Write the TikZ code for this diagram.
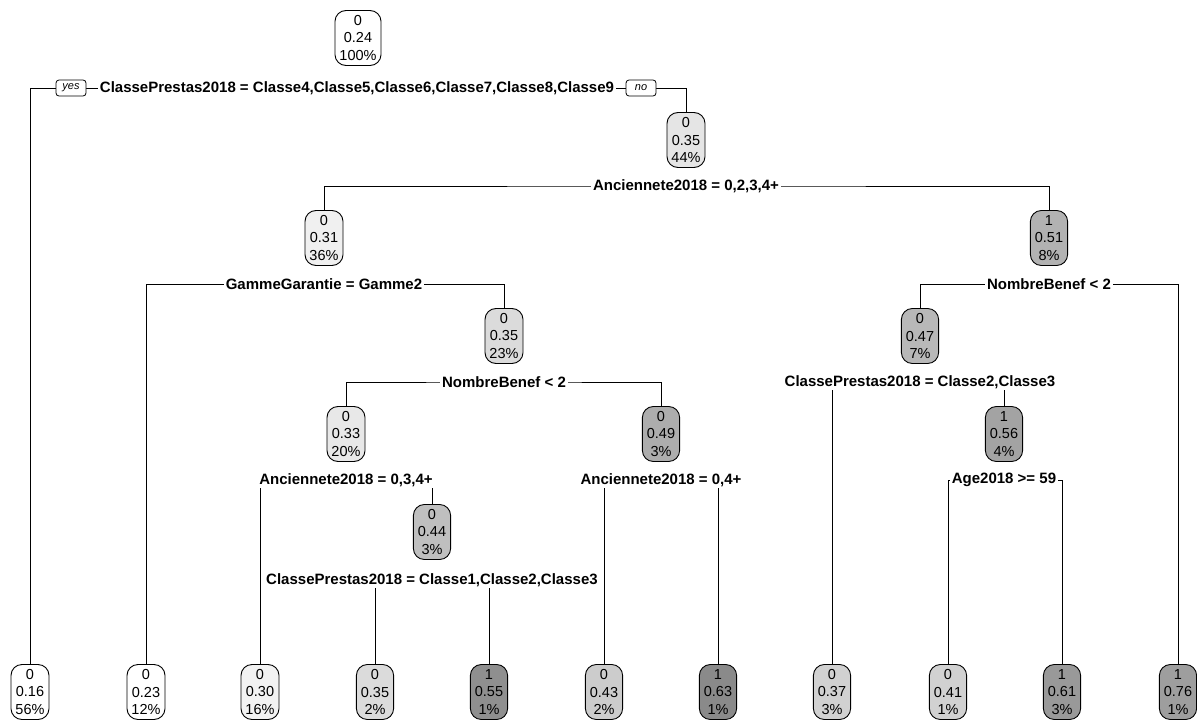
\documentclass[tikz,border=0pt]{standalone}
\usepackage{fontspec}
\setmainfont{Liberation Sans}
\begin{document}
\begin{tikzpicture}[x=1pt,y=-1pt,
  tnode/.style={draw=black,line width=0.9pt,rounded corners=11pt,align=center,
    font=\fontsize{14.5}{17.5}\selectfont,inner xsep=4.5pt,inner ysep=2pt,minimum height=55pt},
  splitlab/.style={fill=white,inner xsep=2pt,inner ysep=1pt,font=\fontsize{15}{16}\selectfont\bfseries},
  yn/.style={draw=black,fill=white,line width=0.8pt,rounded corners=3pt,font=\fontsize{11}{12}\selectfont\itshape,
    inner xsep=3pt,inner ysep=1.5pt,minimum width=30pt,minimum height=16pt},
  conn/.style={line width=0.9pt,black}]
\useasboundingbox (0,0) rectangle (1197,720);
% internal nodes
\node[tnode,fill=white] (root) at (358,38) {0\\0.24\\100\%};
\node[tnode,fill=black!10] (n3) at (686,140) {0\\0.35\\44\%};
\node[tnode,fill=black!6] (n6) at (324,238) {0\\0.31\\36\%};
\node[tnode,fill=black!30] (n7) at (1049,238) {1\\0.51\\8\%};
\node[tnode,fill=black!14] (n13) at (504,336) {0\\0.35\\23\%};
\node[tnode,fill=black!28] (n14) at (920,336) {0\\0.47\\7\%};
\node[tnode,fill=black!9] (n26) at (346,434) {0\\0.33\\20\%};
\node[tnode,fill=black!32] (n27) at (661,434) {0\\0.49\\3\%};
\node[tnode,fill=black!36] (n29) at (1004,434) {1\\0.56\\4\%};
\node[tnode,fill=black!25] (n53) at (432,532) {0\\0.44\\3\%};
% leaves
\node[tnode,fill=white] (L1) at (30,692) {0\\0.16\\56\%};
\node[tnode,fill=white] (L2) at (146,692) {0\\0.23\\12\%};
\node[tnode,fill=black!5] (L3) at (260,692) {0\\0.30\\16\%};
\node[tnode,fill=black!14] (L4) at (375,692) {0\\0.35\\2\%};
\node[tnode,fill=black!44] (L5) at (489,692) {1\\0.55\\1\%};
\node[tnode,fill=black!20] (L6) at (604,692) {0\\0.43\\2\%};
\node[tnode,fill=black!46] (L7) at (718,692) {1\\0.63\\1\%};
\node[tnode,fill=black!18] (L8) at (832,692) {0\\0.37\\3\%};
\node[tnode,fill=black!18] (L9) at (948,692) {0\\0.41\\1\%};
\node[tnode,fill=black!40] (L10) at (1062,692) {1\\0.61\\3\%};
\node[tnode,fill=black!38] (L11) at (1178,692) {1\\0.76\\1\%};
% split positions
\coordinate (s1) at (357,88);
\coordinate (s3) at (686,186);
\coordinate (s6) at (324,284);
\coordinate (s7) at (1049,284);
\coordinate (s13) at (504,382);
\coordinate (s14) at (920,382);
\coordinate (s26) at (346,480);
\coordinate (s27) at (661,480);
\coordinate (s29) at (1004,480);
\coordinate (s53) at (432,580);
% connectors
\draw[conn] (L1.north) |- (s1) -| (n3.north);
\draw[conn] (n6.north) |- (s3) -| (n7.north);
\draw[conn] (L2.north) |- (s6) -| (n13.north);
\draw[conn] (n14.north) |- (s7) -| (L11.north);
\draw[conn] (n26.north) |- (s13) -| (n27.north);
\draw[conn] (L8.north) |- (s14) -| (n29.north);
\draw[conn] (L3.north) |- (s26) -| (n53.north);
\draw[conn] (L6.north) |- (s27) -| (L7.north);
\draw[conn] (L9.north) |- (s29) -| (L10.north);
\draw[conn] (L4.north) |- (s53) -| (L5.north);
% split labels
\node[splitlab] (t1) at (s1) {ClassePrestas2018 = Classe4,Classe5,Classe6,Classe7,Classe8,Classe9};
\node[yn] (yes) at (71,88) {yes};
\node[yn] (no) at (641,88) {no};
\node[splitlab] (t3) at (s3) {Anciennete2018 = 0,2,3,4+};
\node[splitlab] (t6) at (s6) {GammeGarantie = Gamme2};
\node[splitlab] (t7) at (s7) {NombreBenef < 2};
\node[splitlab] (t13) at (s13) {NombreBenef < 2};
\node[splitlab] (t14) at (s14) {ClassePrestas2018 = Classe2,Classe3};
\node[splitlab] (t26) at (s26) {Anciennete2018 = 0,3,4+};
\node[splitlab] (t27) at (s27) {Anciennete2018 = 0,4+};
\node[splitlab] (t29) at (s29) {Age2018 >= 59};
\node[splitlab] (t53) at (s53) {ClassePrestas2018 = Classe1,Classe2,Classe3};
\end{tikzpicture}
\end{document}
